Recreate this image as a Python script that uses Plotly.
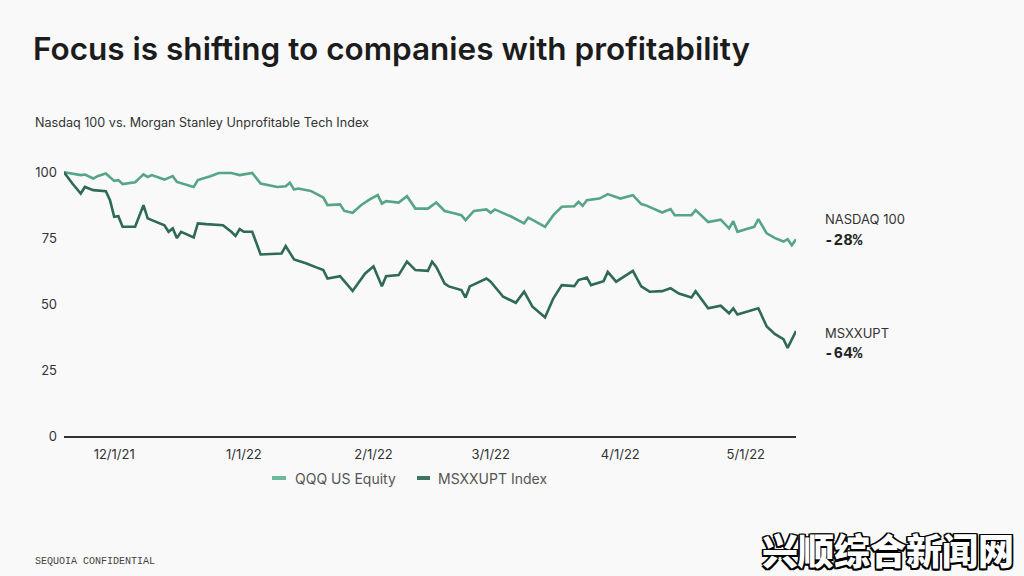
import plotly.graph_objects as go

# ---- data ----
qqq_dates = [
    "2021-11-19", "2021-11-22", "2021-11-23", "2021-11-24", "2021-11-26", "2021-11-27", "2021-11-29",
    "2021-12-01", "2021-12-02", "2021-12-03", "2021-12-06", "2021-12-08", "2021-12-09", "2021-12-10",
    "2021-12-13", "2021-12-15", "2021-12-16", "2021-12-20", "2021-12-21", "2021-12-24", "2021-12-26",
    "2021-12-29", "2021-12-31", "2022-01-03", "2022-01-05", "2022-01-09", "2022-01-11", "2022-01-12",
    "2022-01-13", "2022-01-14", "2022-01-17", "2022-01-20", "2022-01-21", "2022-01-24", "2022-01-25",
    "2022-01-27", "2022-01-29", "2022-01-31", "2022-02-02", "2022-02-03", "2022-02-04", "2022-02-07",
    "2022-02-09", "2022-02-11", "2022-02-14", "2022-02-16", "2022-02-18", "2022-02-20", "2022-02-22",
    "2022-02-23", "2022-02-25", "2022-02-28", "2022-03-01", "2022-03-02", "2022-03-06", "2022-03-09",
    "2022-03-10", "2022-03-12", "2022-03-14", "2022-03-16", "2022-03-18", "2022-03-21", "2022-03-22",
    "2022-03-23", "2022-03-24", "2022-03-27", "2022-03-29", "2022-04-01", "2022-04-04", "2022-04-06",
    "2022-04-07", "2022-04-11", "2022-04-13", "2022-04-14", "2022-04-18", "2022-04-19", "2022-04-22",
    "2022-04-25", "2022-04-27", "2022-04-28", "2022-04-29", "2022-05-01", "2022-05-03", "2022-05-04",
    "2022-05-06", "2022-05-08", "2022-05-10", "2022-05-11", "2022-05-12", "2022-05-13",
]
qqq_values = [
    100.0, 99.2, 98.9, 99.1, 97.6, 98.5, 99.5,
    96.7, 97.0, 95.5, 96.2, 99.2, 98.2, 98.9,
    97.2, 98.5, 96.3, 94.4, 97.0, 98.5, 99.7,
    99.7, 98.9, 99.7, 95.7, 94.4, 94.7, 96.0,
    93.4, 93.8, 92.9, 90.4, 87.5, 87.8, 85.3,
    84.6, 87.5, 89.6, 91.3, 88.1, 89.0, 88.5,
    90.9, 86.2, 86.2, 88.5, 85.3, 84.5, 83.7,
    81.8, 85.3, 85.9, 84.6, 85.9, 83.1, 80.6,
    82.8, 81.1, 79.3, 83.7, 86.9, 87.1, 88.8,
    87.3, 89.4, 90.0, 91.7, 90.0, 91.3, 87.9,
    87.5, 84.7, 86.0, 83.7, 83.7, 85.6, 81.1,
    82.0, 78.7, 81.4, 77.4, 78.4, 79.3, 82.2,
    76.8, 75.0, 73.7, 74.6, 72.3, 74.6,
]

msx_dates = [
    "2021-11-19", "2021-11-21", "2021-11-23", "2021-11-24", "2021-11-26", "2021-11-29", "2021-11-30",
    "2021-12-01", "2021-12-02", "2021-12-03", "2021-12-06", "2021-12-08", "2021-12-09", "2021-12-13",
    "2021-12-14", "2021-12-15", "2021-12-16", "2021-12-17", "2021-12-20", "2021-12-21", "2021-12-23",
    "2021-12-27", "2021-12-29", "2021-12-30", "2021-12-31", "2022-01-01", "2022-01-03", "2022-01-05",
    "2022-01-10", "2022-01-11", "2022-01-13", "2022-01-16", "2022-01-18", "2022-01-20", "2022-01-21",
    "2022-01-24", "2022-01-27", "2022-01-30", "2022-02-01", "2022-02-03", "2022-02-04", "2022-02-07",
    "2022-02-09", "2022-02-11", "2022-02-14", "2022-02-15", "2022-02-16", "2022-02-18", "2022-02-19",
    "2022-02-22", "2022-02-23", "2022-02-24", "2022-02-28", "2022-03-01", "2022-03-04", "2022-03-07",
    "2022-03-09", "2022-03-11", "2022-03-14", "2022-03-16", "2022-03-18", "2022-03-21", "2022-03-22",
    "2022-03-24", "2022-03-25", "2022-03-28", "2022-03-29", "2022-03-31", "2022-04-04", "2022-04-06",
    "2022-04-08", "2022-04-11", "2022-04-13", "2022-04-15", "2022-04-18", "2022-04-19", "2022-04-22",
    "2022-04-25", "2022-04-27", "2022-04-28", "2022-04-29", "2022-05-04", "2022-05-06", "2022-05-08",
    "2022-05-10", "2022-05-11", "2022-05-13",
]
msx_values = [
    100.0, 95.7, 91.9, 94.4, 93.2, 92.8, 89.4,
    83.1, 83.3, 79.3, 79.3, 87.5, 82.5, 79.9,
    77.4, 78.7, 75.0, 77.4, 75.3, 80.6, 80.3,
    79.9, 77.4, 75.8, 78.4, 77.4, 77.4, 68.8,
    69.2, 72.0, 66.9, 65.4, 64.1, 62.9, 59.7,
    60.6, 55.0, 61.6, 64.3, 56.8, 60.6, 61.0,
    66.1, 62.9, 62.6, 66.1, 64.1, 57.8, 56.7,
    55.3, 52.5, 56.7, 59.7, 58.5, 52.8, 50.5,
    54.7, 49.0, 45.0, 52.2, 57.2, 56.8, 59.1,
    60.1, 57.2, 58.7, 62.2, 58.5, 62.6, 56.7,
    54.7, 54.9, 56.0, 54.0, 52.5, 54.9, 48.4,
    49.4, 46.5, 48.4, 46.1, 48.4, 41.5, 38.6,
    36.7, 33.4, 39.8,
]

series_names = ["QQQ US Equity", "MSXXUPT Index"]
end_labels = ["NASDAQ 100", "MSXXUPT"]
end_changes = ["-28%", "-64%"]
x_tick_dates = ["2021-12-01", "2022-01-01", "2022-02-01", "2022-03-01", "2022-04-01", "2022-05-01"]
x_tick_labels = ["12/1/21", "1/1/22", "2/1/22", "3/1/22", "4/1/22", "5/1/22"]
y_tick_values = [0, 25, 50, 75, 100]

LIGHT = "#55a586"
DARK = "#2f6a54"
BG = "#f9f9f9"

fig = go.Figure()
fig.add_trace(go.Scatter(x=qqq_dates, y=qqq_values, mode="lines", name=series_names[0],
                         line=dict(color=LIGHT, width=2.6), showlegend=False))
fig.add_trace(go.Scatter(x=msx_dates, y=msx_values, mode="lines", name=series_names[1],
                         line=dict(color=DARK, width=2.6), showlegend=False))

# plot area geometry
L, R, T, B = 64, 228, 159, 140

fig.update_layout(
    width=1024, height=576,
    margin=dict(l=L, r=R, t=T, b=B),
    paper_bgcolor=BG, plot_bgcolor=BG,
    font=dict(family="Inter, Arial, sans-serif", color="#333333"),
    title=dict(
        text="Focus is shifting to companies with profitability",
        x=33 / 1024, xanchor="left", xref="container",
        y=1 - 49 / 576, yanchor="middle", yref="container",
        font=dict(family="Inter, Arial, sans-serif", size=31.5, color="#1c1c1c", weight=600),
    ),
    xaxis=dict(
        type="date", range=["2021-11-19", "2022-05-13"],
        tickvals=x_tick_dates, ticktext=x_tick_labels,
        showgrid=False, zeroline=False, showline=True, linecolor="#333333", linewidth=1.6,
        ticks="", tickfont=dict(size=13, color="#333333"), ticklabelstandoff=6,
    ),
    yaxis=dict(
        range=[0, 105], tickvals=y_tick_values, showgrid=False, zeroline=False,
        showline=False, ticks="", tickfont=dict(size=13, color="#333333"), ticklabelstandoff=6,
    ),
    showlegend=False,
)

plot_w = 1024 - L - R
plot_h = 576 - T - B


def px_x(p):
    return (p - L) / plot_w


def px_y(p):
    return (576 - B - p) / plot_h


annotations = []
# subtitle
annotations.append(dict(
    text="Nasdaq 100 vs. Morgan Stanley Unprofitable Tech Index",
    xref="paper", yref="paper", x=px_x(33), y=px_y(123), xanchor="left", yanchor="middle",
    showarrow=False, font=dict(size=12.6, color="#333333"),
))
# end labels
for lab, chg, y1, y2 in [(end_labels[0], end_changes[0], 219, 241), (end_labels[1], end_changes[1], 333, 354)]:
    annotations.append(dict(text=lab, xref="paper", yref="paper", x=px_x(823), y=px_y(y1),
                            xanchor="left", yanchor="middle", showarrow=False,
                            font=dict(size=13, color="#333333")))
    annotations.append(dict(text=chg, xref="paper", yref="paper", x=px_x(822), y=px_y(y2),
                            xanchor="left", yanchor="middle", showarrow=False,
                            font=dict(family="Liberation Mono, Courier New, monospace", size=16,
                                      color="#222222", weight=700)))
# manual legend
legend_y = px_y(478)
shapes = []
for name, col, x0, x1, xt in [(series_names[0], "#6cb99b", 272, 286, 293),
                              (series_names[1], "#3b7762", 417, 430, 436)]:
    shapes.append(dict(type="line", xref="paper", yref="paper", x0=px_x(x0), x1=px_x(x1),
                       y0=legend_y, y1=legend_y, line=dict(color=col, width=4)))
    annotations.append(dict(text=name, xref="paper", yref="paper", x=px_x(xt), y=legend_y,
                            xanchor="left", yanchor="middle", showarrow=False,
                            font=dict(size=14, color="#555555")))
# footer
annotations.append(dict(text="SEQUOIA CONFIDENTIAL", xref="paper", yref="paper",
                        x=px_x(33), y=px_y(561), xanchor="left", yanchor="middle", showarrow=False,
                        font=dict(family="Liberation Mono, Courier New, monospace", size=10, color="#444444")))
# watermark
annotations.append(dict(text="兴顺综合新闻网", xref="paper", yref="paper",
                        x=px_x(1016), y=px_y(549), xanchor="right", yanchor="middle", showarrow=False,
                        font=dict(family="Noto Sans CJK SC", size=36, color="#ffffff", weight=900,
                                  shadow="1.5px 1.5px 0 #000, -1.5px -1.5px 0 #000, 1.5px -1.5px 0 #000, -1.5px 1.5px 0 #000, 0 1.5px 0 #000, 0 -1.5px 0 #000, 1.5px 0 0 #000, -1.5px 0 0 #000")))

fig.update_layout(annotations=annotations, shapes=shapes)

fig.write_html(
    "out.html",
    config={"displayModeBar": False},
    post_script="document.body.style.margin='0';document.body.style.padding='0';"
                "document.documentElement.style.overflow='hidden';document.body.style.overflow='hidden';",
)
